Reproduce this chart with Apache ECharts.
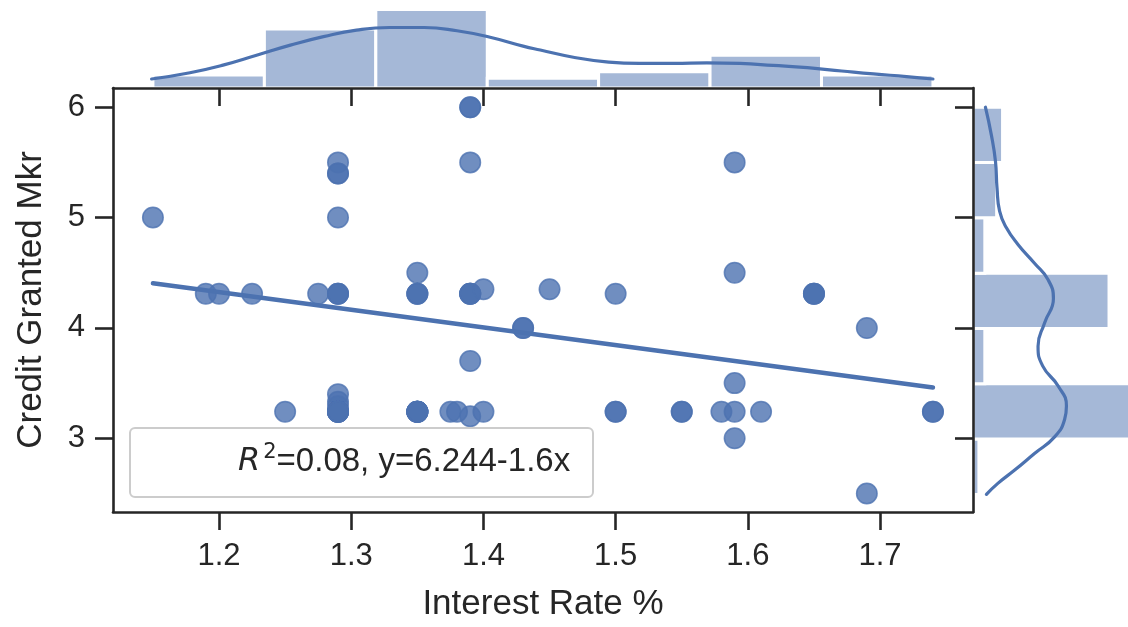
<!DOCTYPE html>
<html>
<head>
<meta charset="utf-8">
<script src="https://cdn.jsdelivr.net/npm/echarts@6/dist/echarts.min.js"></script>
<style>
  html, body { margin: 0; padding: 0; background: #ffffff; }
  #chart { width: 1128px; height: 627px; }
</style>
</head>
<body>
<div id="chart"></div>
<script>
// One entry per loan: interest rate (%) and credit granted (Mkr), listed by rate
const interestRate = [
  1.15, 1.19, 1.20, 1.225, 1.25, 1.275,
  1.29, 1.29, 1.29, 1.29, 1.29, 1.29, 1.29, 1.29, 1.29, 1.29, 1.29, 1.29, 1.29, 1.29, 1.29, 1.29,
  1.35, 1.35, 1.35, 1.35, 1.35, 1.35, 1.35, 1.35, 1.35, 1.35, 1.35,
  1.375, 1.38,
  1.39, 1.39, 1.39, 1.39, 1.39, 1.39, 1.39, 1.39, 1.39,
  1.40, 1.40,
  1.43, 1.43, 1.45,
  1.50, 1.50, 1.50, 1.55, 1.55,
  1.58, 1.59, 1.59, 1.59, 1.59, 1.59, 1.61, 1.65, 1.65, 1.65,
  1.69, 1.69, 1.74, 1.74
];
const creditGranted = [
  5.0, 4.31, 4.31, 4.31, 3.24, 4.31,
  5.5, 5.4, 5.4, 5.0, 4.31, 4.31, 4.31, 3.4, 3.33, 3.29, 3.24, 3.24, 3.24, 3.24, 3.24, 3.24,
  4.5, 4.31, 4.31, 4.31, 3.24, 3.24, 3.24, 3.24, 3.24, 3.24, 3.24,
  3.24, 3.24,
  6.0, 6.0, 5.5, 4.31, 4.31, 4.31, 4.31, 3.7, 3.2,
  4.35, 3.24,
  4.0, 4.0, 4.35,
  4.31, 3.24, 3.24, 3.24, 3.24,
  3.24, 5.5, 4.5, 3.5, 3.24, 3.0, 3.24, 4.31, 4.31, 4.31,
  4.0, 2.5, 3.24, 3.24
];

// Marginal histograms (counts per bin)
const rateBinEdges = [1.15, 1.2343, 1.3186, 1.4029, 1.4871, 1.5714, 1.6557, 1.74];
const rateBinCounts = [4, 18, 24, 3, 5, 10, 4];
const creditBinEdges = [2.5, 3.0, 3.5, 4.0, 4.5, 5.0, 5.5, 6.0];
const creditBinCounts = [1, 31, 2, 23, 2, 4, 5];

// Density curves over the histograms, in count units
const rateKdeX = [1.149, 1.178, 1.203, 1.229, 1.254, 1.279, 1.304, 1.329, 1.355, 1.380, 1.405, 1.430,
  1.443, 1.468, 1.493, 1.518, 1.544, 1.569, 1.594, 1.619, 1.645, 1.671, 1.695, 1.720, 1.740];
const rateKdeCount = [2.75, 4.67, 7.0, 10.1, 13.1, 15.7, 17.7, 18.5, 18.5, 17.5, 15.5, 12.8,
  11.6, 9.4, 8.0, 7.5, 7.5, 7.7, 7.5, 6.9, 6.2, 5.2, 4.3, 3.5, 2.75];
const creditKdeY = [6.0, 5.75, 5.51, 5.27, 5.06, 4.91, 4.76, 4.59, 4.44, 4.27, 4.05, 3.84, 3.66,
  3.48, 3.30, 3.18, 3.02, 2.87, 2.72, 2.60, 2.50];
const creditKdeCount = [2.1, 3.1, 3.8, 4.06, 4.5, 5.65, 7.6, 10.4, 12.7, 13.6, 12.1, 11.0, 11.8,
  14.4, 15.8, 15.5, 13.8, 10.4, 7.05, 4.2, 2.27];

// Least-squares fit shown in the annotation box
const fitIntercept = 6.244;
const fitSlope = -1.6;
const fitRSquared = 0.08;
const fitRange = [1.15, 1.74];

// Tick labels
const rateTicks = [1.2, 1.3, 1.4, 1.5, 1.6, 1.7];
const creditTicks = [3, 4, 5, 6];

const BLUE = '#4C72B0';
const INK = '#262626';
const FONT = '"Liberation Sans", Arial, sans-serif';

const xRange = { min: 1.1198, max: 1.7703 };
const yRange = { min: 2.332, max: 6.174 };

const scatterData = interestRate.map((r, i) => [r, creditGranted[i]]);
const fitLine = fitRange.map(x => [x, fitIntercept + fitSlope * x]);
const rateHist = rateBinCounts.map((c, i) => [rateBinEdges[i], rateBinEdges[i + 1], c]);
const creditHist = creditBinCounts.map((c, i) => [creditBinEdges[i], creditBinEdges[i + 1], c]);
const rateKde = rateKdeX.map((x, i) => [x, rateKdeCount[i]]);
const creditKde = creditKdeY.map((y, i) => [creditKdeCount[i], y]);

const barStyle = { fill: 'rgba(76,114,176,0.5)', stroke: '#ffffff', lineWidth: 3 };

function renderRateBar(params, api) {
  const top = api.coord([api.value(0), api.value(2)]);
  const bottom = api.coord([api.value(1), 0]);
  return { type: 'rect', shape: { x: top[0], y: top[1], width: bottom[0] - top[0], height: bottom[1] - top[1] }, style: barStyle };
}
function renderCreditBar(params, api) {
  const outer = api.coord([api.value(2), api.value(1)]);
  const base = api.coord([0, api.value(0)]);
  return { type: 'rect', shape: { x: base[0], y: outer[1], width: outer[0] - base[0], height: base[1] - outer[1] }, style: barStyle };
}

const spine = { show: true, onZero: false, lineStyle: { color: INK, width: 2.6 } };
const tickStyle = { color: INK, width: 2.6 };

const option = {
  animation: false,
  backgroundColor: '#ffffff',
  textStyle: { fontFamily: FONT },
  grid: [
    { left: 113, top: 88, width: 860, height: 425 },
    { left: 113, top: 0, width: 860, height: 88 },
    { left: 973, top: 88, width: 155, height: 425 }
  ],
  xAxis: [
    {
      gridIndex: 0, type: 'value', min: xRange.min, max: xRange.max, z: 10,
      axisLine: spine,
      axisTick: { show: true, inside: false, length: 18, lineStyle: tickStyle, customValues: rateTicks },
      axisLabel: { customValues: rateTicks, formatter: v => v.toFixed(1), fontSize: 31, color: INK, margin: 29, fontFamily: FONT },
      splitLine: { show: false },
      name: 'Interest Rate %', nameLocation: 'middle', nameGap: 75,
      nameTextStyle: { fontSize: 35, color: INK, fontFamily: FONT }
    },
    {
      gridIndex: 0, type: 'value', position: 'top', min: xRange.min, max: xRange.max, z: 10,
      axisLine: spine,
      axisTick: { show: true, inside: true, length: 18, lineStyle: tickStyle, customValues: rateTicks },
      axisLabel: { show: false }, splitLine: { show: false }
    },
    { gridIndex: 1, type: 'value', min: xRange.min, max: xRange.max, show: false },
    { gridIndex: 2, type: 'value', min: 0, max: 26.21, show: false }
  ],
  yAxis: [
    {
      gridIndex: 0, type: 'value', min: yRange.min, max: yRange.max, z: 10,
      axisLine: spine,
      axisTick: { show: true, inside: false, length: 18, lineStyle: tickStyle, customValues: creditTicks },
      axisLabel: { customValues: creditTicks, formatter: v => String(v), fontSize: 31, color: INK, margin: 28, fontFamily: FONT },
      splitLine: { show: false },
      name: 'Credit Granted Mkr', nameLocation: 'middle', nameGap: 64,
      nameTextStyle: { fontSize: 35, color: INK, fontFamily: FONT }
    },
    {
      gridIndex: 0, type: 'value', position: 'right', min: yRange.min, max: yRange.max, z: 10,
      axisLine: spine,
      axisTick: { show: true, inside: true, length: 18, lineStyle: tickStyle, customValues: creditTicks },
      axisLabel: { show: false }, splitLine: { show: false }
    },
    { gridIndex: 1, type: 'value', min: 0, max: 26.9, show: false },
    { gridIndex: 2, type: 'value', min: yRange.min, max: yRange.max, show: false }
  ],
  series: [
    {
      type: 'scatter', xAxisIndex: 0, yAxisIndex: 0, data: scatterData,
      symbol: 'circle', symbolSize: 20.5, z: 3,
      itemStyle: { color: BLUE, opacity: 0.8, borderColor: BLUE, borderWidth: 1.5 },
      emphasis: { disabled: true }
    },
    {
      type: 'line', xAxisIndex: 0, yAxisIndex: 0, data: fitLine, symbol: 'none', z: 4,
      lineStyle: { color: BLUE, width: 4.5, cap: 'round' }
    },
    {
      type: 'custom', xAxisIndex: 2, yAxisIndex: 2, data: rateHist, z: 1,
      renderItem: renderRateBar, encode: { x: [0, 1], y: 2 }
    },
    {
      type: 'custom', xAxisIndex: 3, yAxisIndex: 3, data: creditHist, z: 1, clip: false,
      renderItem: renderCreditBar, encode: { x: 2, y: [0, 1] }
    },
    {
      type: 'line', xAxisIndex: 2, yAxisIndex: 2, data: rateKde, symbol: 'none', smooth: true, z: 2,
      lineStyle: { color: BLUE, width: 3.2, cap: 'round' }
    },
    {
      type: 'line', xAxisIndex: 3, yAxisIndex: 3, data: creditKde, symbol: 'none', smooth: true, z: 2,
      lineStyle: { color: BLUE, width: 3.2, cap: 'round' }
    }
  ],
  graphic: [
    {
      type: 'rect', z: 100,
      shape: { x: 130, y: 428, width: 463, height: 69, r: 5 },
      style: { fill: 'rgba(255,255,255,0.8)', stroke: '#cccccc', lineWidth: 2 }
    },
    {
      type: 'text', z: 101, x: 238, y: 462,
      style: {
        text: '{r|R}{s|2}{t|=' + fitRSquared.toFixed(2) + ', y=' + fitIntercept + '-' + Math.abs(fitSlope) + 'x}',
        verticalAlign: 'middle', align: 'left',
        rich: {
          r: { fontFamily: '"DejaVu Sans"', fontStyle: 'italic', fontSize: 32, fill: INK, lineHeight: 40 },
          s: { fontFamily: '"DejaVu Sans"', fontSize: 21, fill: INK, lineHeight: 30, verticalAlign: 'top', padding: [0, 0, 0, 3] },
          t: { fontFamily: FONT, fontSize: 33, fill: INK, lineHeight: 40 }
        }
      }
    }
  ]
};

const chart = echarts.init(document.getElementById('chart'), null, { renderer: 'canvas' });
chart.setOption(option);
</script>
</body>
</html>
